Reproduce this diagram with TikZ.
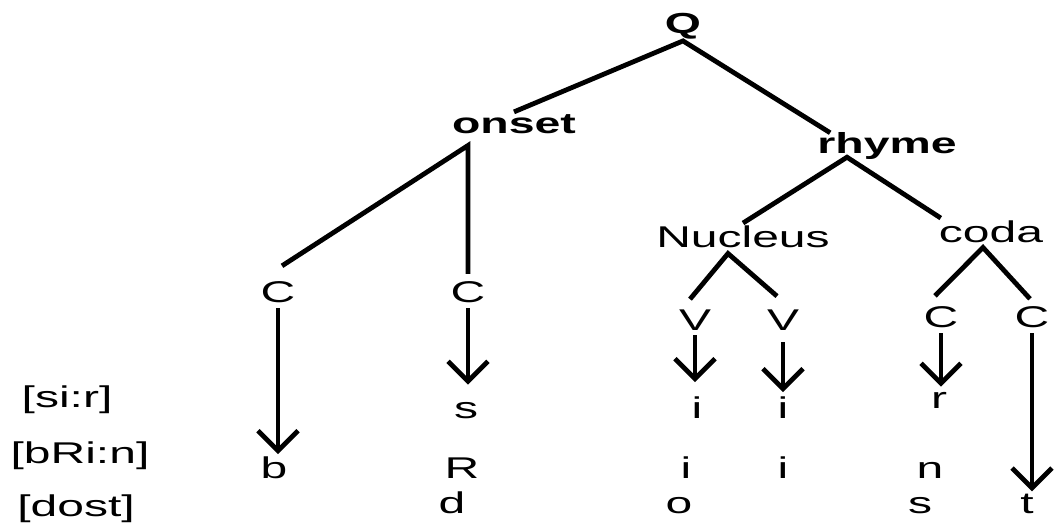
\documentclass[tikz,border=0pt]{standalone}
\usepackage{fontspec}
\setmainfont{Liberation Sans}[FakeStretch=1.6]
\usetikzlibrary{arrows.meta}

\begin{document}
\begin{tikzpicture}[
    x=1pt, y=-1pt,
    seg/.style={anchor=base, inner sep=2pt, font=\fontsize{30}{36}\selectfont},
    cat/.style={seg, font=\fontsize{29}{36}\selectfont\bfseries},
    branch/.style={line width=4.8pt},
    arrow/.style={-{Straight Barb[length=20pt, width=40pt]}, line width=4.8pt, shorten <=4pt}
]
\useasboundingbox (0,0) rectangle (1057,522);

% Syllable and its constituents
\node[cat] (Q) at (683,33) {Q};
\node[cat] (onset) at (514,133) {onset};
\node[cat] (rhyme) at (887,153) {rhyme};
\node[seg] (nucleus) at (743,247) {Nucleus};
\node[seg] (coda) at (991,242) {coda};

% Skeletal slots
\node[seg] (c1) at (278,302) {C};
\node[seg] (c2) at (468,302) {C};
\node[seg] (v1) at (695,330) {V};
\node[seg] (v2) at (783,330) {V};
\node[seg] (c3) at (941,327) {C};
\node[seg] (c4) at (1032,327) {C};

% Words
\node[seg] (sir) at (67,407) {[si:r]};
\node[seg] (brin) at (80,463) {[bRi:n]};
\node[seg] (dost) at (76,516) {[dost]};

\node[seg] (sirS) at (466,418) {s};
\node[seg] (sirI1) at (697,418) {i};
\node[seg] (sirI2) at (783,418) {i};
\node[seg] (sirR) at (939,408) {r};

\node[seg] (brinB) at (274,478) {b};
\node[seg] (brinR) at (462,478) {R};
\node[seg] (brinI1) at (686,478) {i};
\node[seg] (brinI2) at (783,478) {i};
\node[seg] (brinN) at (930,478) {n};

\node[seg] (dostD) at (452,513) {d};
\node[seg] (dostO) at (679,513) {o};
\node[seg] (dostS) at (920,513) {s};
\node[seg] (dostT) at (1027,513) {t};

% Branches
\draw[branch] (onset.north) -- (Q.south) -- ([xshift=15pt,yshift=-3pt]rhyme.north west);
\draw[branch] ([xshift=4pt,yshift=13pt]c1.north) -- ([xshift=-46pt,yshift=-10pt]onset.south) -- ([yshift=5pt]c2.north);
\draw[branch] (nucleus.north) -- ([xshift=-40pt,yshift=4pt]rhyme.south) -- ([xshift=4pt]coda.north west);
\draw[branch] ([xshift=-5pt,yshift=8pt]v1.north) -- ([xshift=-15pt,yshift=-4pt]nucleus.south) -- ([xshift=-6pt,yshift=11pt]v2.north);
\draw[branch] ([xshift=-6pt,yshift=8pt]c3.north) -- ([xshift=-8pt,yshift=-3pt]coda.south) -- ([xshift=-2pt,yshift=5pt]c4.north);

% Association arrows
\draw[arrow] (c1) -- (c1 |- brinB.north);
\draw[arrow, shorten >=15pt] (c2) -- (c2 |- sirS.north);
\draw[arrow, shorten <=3pt, shorten >=12pt] (v1) -- (v1 |- sirI1.north);
\draw[arrow, shorten <=10pt, shorten >=2pt] (v2) -- (v2 |- sirI2.north);
\draw[arrow, shorten >=3pt] (c3) -- (c3 |- sirR.north);
\draw[arrow] (c4) -- (c4 |- dostT.north);

\end{tikzpicture}
\end{document}
